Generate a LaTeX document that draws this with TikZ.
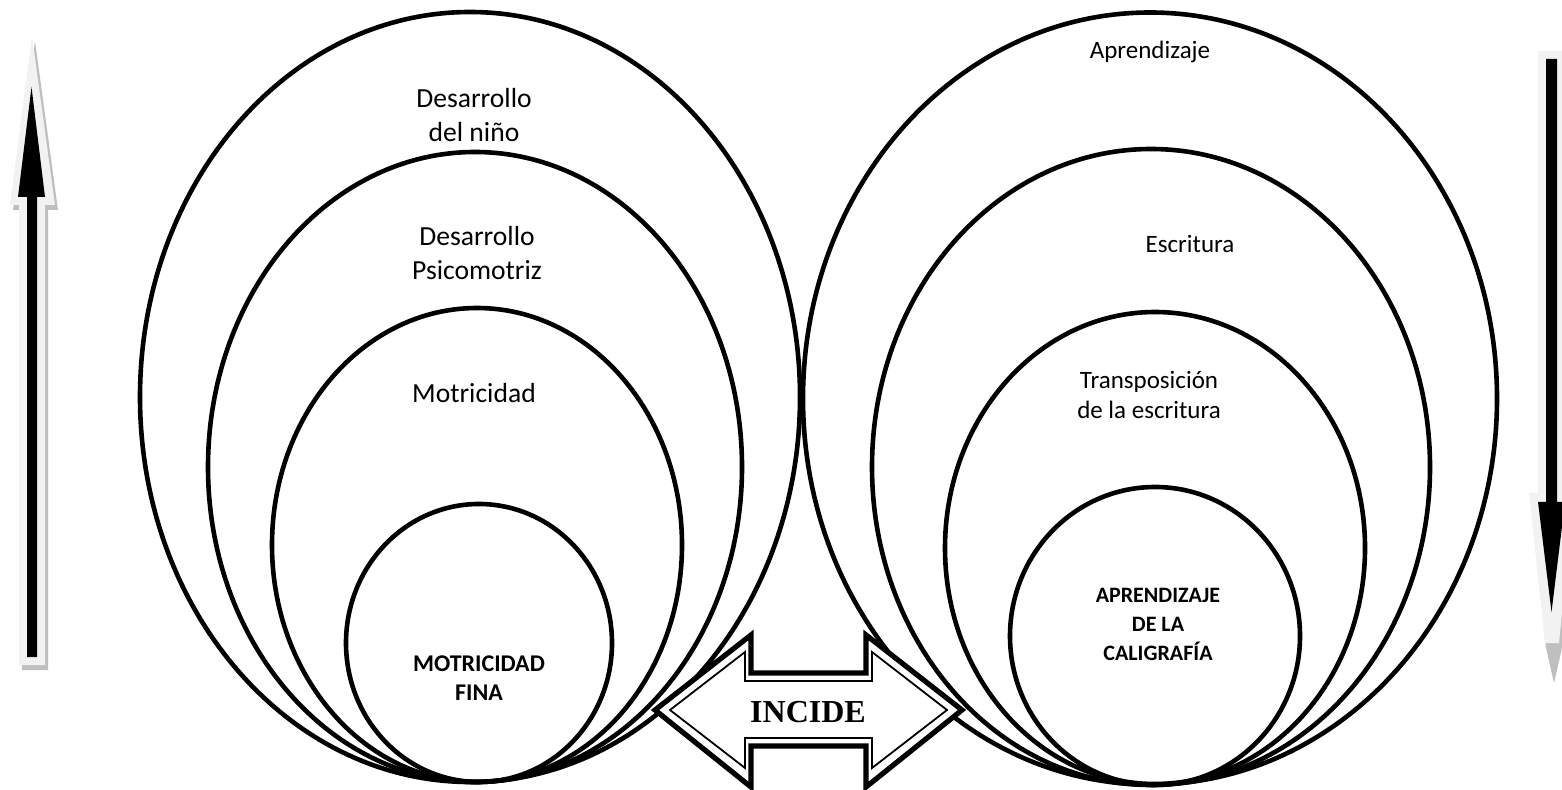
\documentclass[tikz,border=0pt]{standalone}
\usepackage{fontspec}
\setmainfont{Carlito}
\newfontfamily\timesfont{Liberation Serif}
\usetikzlibrary{shapes.geometric}
\definecolor{lightfill}{HTML}{F2F2F2}
\definecolor{shadowgray}{HTML}{BFBFBF}
\tikzset{
  ring/.style={ellipse, draw=black, line width=2.3pt, inner sep=0pt, outer sep=0pt},
  lbl/.style={align=center, font=\fontsize{12.5}{16.5}\selectfont, inner sep=0pt},
  llbl/.style={align=center, font=\fontsize{13.8}{16.8}\selectfont, inner sep=0pt},
  blbl/.style={align=center, font=\fontsize{12}{14.5}\selectfont\bfseries, inner sep=0pt},
}
\begin{document}
\begin{tikzpicture}[x=0.5pt,y=-0.5pt]
\useasboundingbox (0,0) rectangle (1562,790);
\fill[white] (0,0) rectangle (1562,790);

% left group of ellipses
\node[ring, minimum width=330pt, minimum height=385pt] (l1) at (470,397) {};
\node[ring, minimum width=267pt, minimum height=315pt] (l2) at (475,467) {};
\node[ring, minimum width=205pt, minimum height=237pt] (l3) at (477,545) {};
\node[ring, minimum width=133pt, minimum height=139pt] (l4) at (479,643) {};

% right group of ellipses
\node[ring, minimum width=347pt, minimum height=386pt] (r1) at (1150,398.5) {};
\node[ring, minimum width=279pt, minimum height=318pt] (r2) at (1151,467) {};
\node[ring, minimum width=210pt, minimum height=236pt] (r3) at (1155,548) {};
\node[ring, minimum width=145pt, minimum height=149pt] (r4) at (1155,636) {};

% labels
\node[llbl] (t1) at (474,115) {Desarrollo\\del niño};
\node[llbl] (t2) at (477,253) {Desarrollo\\Psicomotriz};
\node[llbl] (t3) at (474,393) {Motricidad};
\node[blbl] (t4) at (479,678) {MOTRICIDAD\\FINA};
\node[lbl] (t5) at (1150,52) {Aprendizaje};
\node[lbl] (t6) at (1190,244) {Escritura};
\node[lbl, font=\fontsize{12.5}{14.8}\selectfont] (t7) at (1149,395) {Transposición\\de la escritura};
\node[blbl, font=\fontsize{11}{14.5}\selectfont\bfseries] (t8) at (1158,624) {APRENDIZAJE\\DE LA\\CALIGRAFÍA};

% double arrow INCIDE
\filldraw[fill=white, draw=black, line width=2.6pt, line join=miter]
  (655,710) -- (751,635) -- (751,673) -- (866,673) -- (866,635) -- (962,710)
  -- (866,787) -- (866,746) -- (751,746) -- (751,787) -- cycle;
\draw[black, line width=0.9pt, line join=miter]
  (670,710) -- (745,652) -- (745,681) -- (872,681) -- (872,652) -- (947,710)
  -- (872,768) -- (872,738) -- (745,738) -- (745,768) -- cycle;
\node[font=\timesfont\fontsize{16}{18}\selectfont\bfseries, inner sep=0pt] (inc) at (808,712) {INCIDE};

% left up arrow
\fill[shadowgray] (35,41) -- (58,210) -- (48,210) -- (48,670) -- (22,670) -- (22,210) -- (13,210) -- cycle;
\fill[lightfill] (32,36) -- (55,205) -- (45,205) -- (45,665) -- (19,665) -- (19,205) -- (10,205) -- cycle;
\fill[black] (31.5,87) -- (45,197) -- (37,197) -- (37,657) -- (27,657) -- (27,197) -- (18,197) -- cycle;

% right down arrow
\fill[shadowgray] (1541,56) -- (1568,56) -- (1568,498) -- (1577,498) -- (1562,648) -- (1554,683) -- (1546,648) -- (1532,498) -- (1541,498) -- cycle;
\fill[lightfill] (1538,51) -- (1565,51) -- (1565,493) -- (1574,493) -- (1559,643) -- (1545,643) -- (1529,493) -- (1538,493) -- cycle;
\fill[black] (1546,59) -- (1557,59) -- (1557,502) -- (1565,502) -- (1551.5,612) -- (1538,502) -- (1546,502) -- cycle;
\end{tikzpicture}
\end{document}
